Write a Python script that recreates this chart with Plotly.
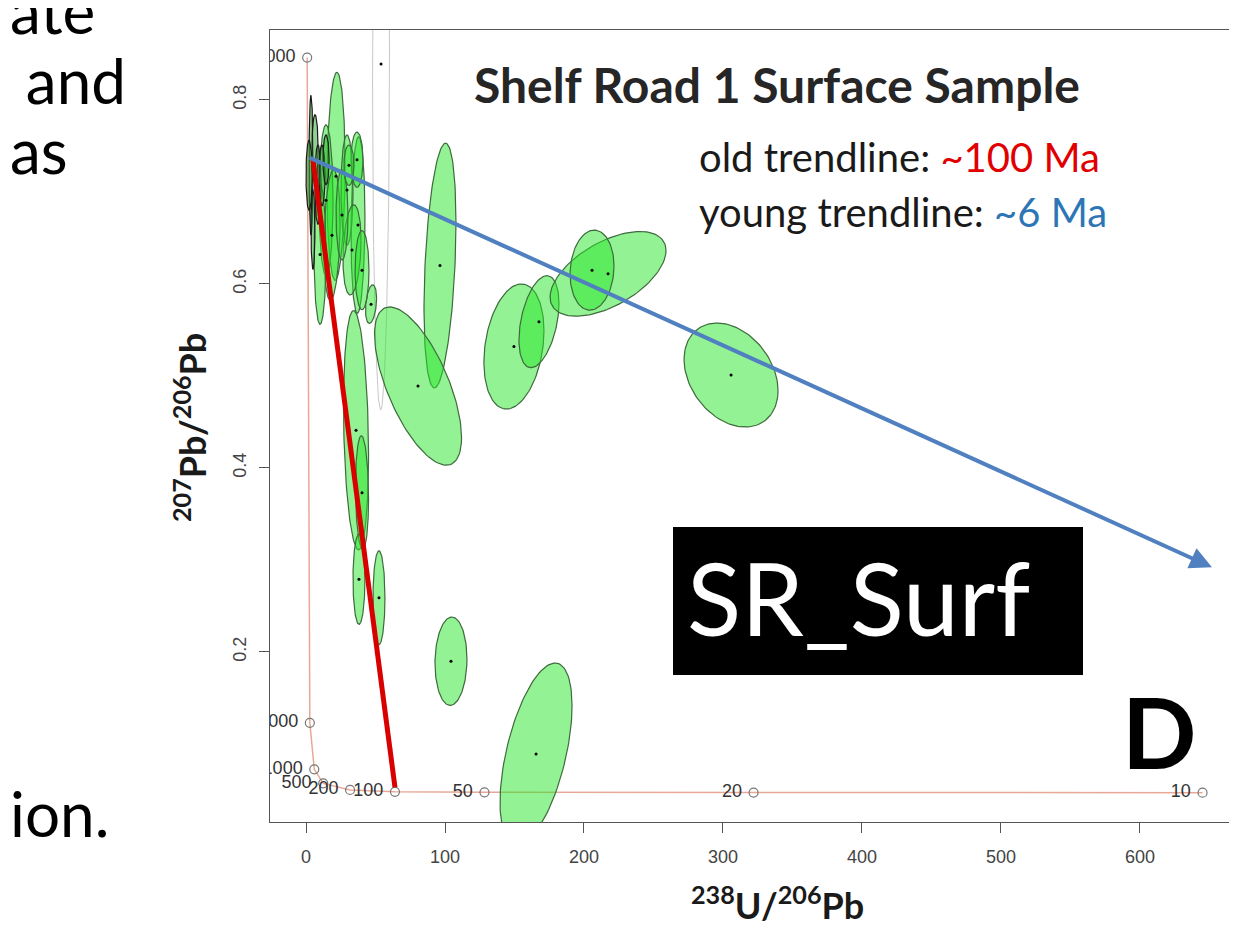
import numpy as np
import plotly.graph_objects as go

# ---------------- data ----------------
# Tera-Wasserburg concordia reference ages (Ma) and their positions
conc_age = [5000, 2000, 1000, 500, 200, 100, 50, 20, 10]
conc_x = [0.85, 2.75, 5.96, 12.4, 31.7, 64.0, 128.4, 322.0, 645.0]
conc_y = [0.846, 0.123, 0.0725, 0.0572, 0.0501, 0.0480, 0.0475, 0.0472, 0.0471]

# Error ellipses: centre x (238U/206Pb), centre y (207Pb/206Pb), half-width x, half-height y, correlation
ell_x   = [104.3, 165.5, 149.6, 167.6, 217.3, 205.8, 96.4, 80.6, 46.8, 36.0, 40.3, 38.1, 52.5, 305.8,
           21.6, 37.4, 29.5, 14.4, 18.7, 10.1, 33.1, 40.3, 25.9, 36.7, 30.9]
ell_y   = [0.190, 0.089, 0.532, 0.559, 0.611, 0.615, 0.620, 0.489, 0.578, 0.441, 0.373, 0.279, 0.259, 0.501,
           0.717, 0.664, 0.702, 0.691, 0.653, 0.632, 0.637, 0.615, 0.675, 0.735, 0.729]
ell_hx  = [11.5, 25.9, 21.6, 14.4, 41.7, 15.8, 11.5, 31.3, 4.0, 9.0, 4.7, 4.3, 4.3, 33.8,
           6.5, 5.0, 4.3, 5.0, 5.8, 4.3, 6.5, 5.0, 4.3, 4.3, 3.6]
ell_hy  = [0.048, 0.099, 0.068, 0.050, 0.046, 0.0435, 0.133, 0.086, 0.021, 0.130, 0.062, 0.049, 0.051, 0.0565,
           0.113, 0.096, 0.060, 0.082, 0.071, 0.076, 0.049, 0.043, 0.049, 0.030, 0.022]
ell_rho = [0.05, 0.53, 0.25, 0.40, 0.55, 0.10, 0.35, -0.65, 0.3, -0.2, -0.1, 0.0, 0.0, -0.3,
           0.1, 0.1, 0.0, 0.0, 0.2, 0.0, 0.2, 0.0, 0.0, 0.0, 0.0]

# very narrow (dark-outlined) ellipses near the y axis
nar_x   = [3.6, 6.5, 2.2, 8.6, 11.5, 5.0, 14.4]
nar_y   = [0.729, 0.746, 0.718, 0.708, 0.718, 0.659, 0.735]
nar_hx  = [1.4, 2.2, 2.2, 2.2, 2.2, 1.4, 2.2]
nar_hy  = [0.076, 0.038, 0.038, 0.043, 0.033, 0.043, 0.027]

# faint (unfilled) ellipse
faint_x, faint_y, faint_hx, faint_hy, faint_rho = [54.0], [0.839], [6.1], [0.376], [0.05]

# trendlines
old_trend_x = [5.0, 64.0]
old_trend_y = [0.735, 0.053]
young_trend_x = [1.4, 651.8]
young_trend_y = [0.738, 0.292]

x_ticks = [0, 100, 200, 300, 400, 500, 600]
y_ticks = [0.2, 0.4, 0.6, 0.8]

# ---------------- layout geometry (target pixel frame) ----------------
OFF = 8                      # page body margin
W, H = 1237, 940
L, R, T, B = 270, 1237, 30, 822
X_RANGE = [-25.9, 669.8]
Y_RANGE = [0.0152, 0.876]


def px(x):
    return (x - L) / (R - L)


def py(y):
    return (B - y) / (B - T)


def ellipse(cx, cy, hx, hy, rho, n=120):
    t = np.linspace(0, 2 * np.pi, n)
    xs = cx + hx * np.cos(t)
    ys = cy + hy * (rho * np.cos(t) + np.sqrt(1 - rho ** 2) * np.sin(t))
    return xs, ys


fig = go.Figure()

# faint ellipse
for cx, cy, hx, hy, r in zip(faint_x, faint_y, faint_hx, faint_hy, faint_rho):
    xs, ys = ellipse(cx, cy, hx, hy, r)
    fig.add_trace(go.Scatter(x=xs, y=ys, mode="lines", line=dict(color="#c8c8c8", width=1),
                             hoverinfo="skip", showlegend=False))

# concordia
fig.add_trace(go.Scatter(
    x=conc_x, y=conc_y, mode="lines+markers+text",
    line=dict(color="#e8a898", width=1.5),
    marker=dict(symbol="circle-open", size=9, color="#777777", line=dict(width=1.2)),
    text=[str(a) + " " for a in conc_age], textposition="middle left",
    textfont=dict(family="Liberation Sans, Arial", size=18, color="#333333"),
    cliponaxis=True, showlegend=False, hoverinfo="skip"))

# green ellipses
for cx, cy, hx, hy, r in zip(ell_x, ell_y, ell_hx, ell_hy, ell_rho):
    xs, ys = ellipse(cx, cy, hx, hy, r)
    fig.add_trace(go.Scatter(x=xs, y=ys, mode="lines", fill="toself",
                             fillcolor="rgba(40,230,40,0.5)",
                             line=dict(color="#3d6b3d", width=1.2),
                             hoverinfo="skip", showlegend=False))

for cx, cy, hx, hy in zip(nar_x, nar_y, nar_hx, nar_hy):
    xs, ys = ellipse(cx, cy, hx, hy, 0.0)
    fig.add_trace(go.Scatter(x=xs, y=ys, mode="lines", fill="toself",
                             fillcolor="rgba(40,160,40,0.5)",
                             line=dict(color="#1a1a1a", width=1.2),
                             hoverinfo="skip", showlegend=False))

# centre dots
fig.add_trace(go.Scatter(x=ell_x + faint_x, y=ell_y + faint_y, mode="markers",
                         marker=dict(color="black", size=3), hoverinfo="skip", showlegend=False))

# old trendline (red)
fig.add_trace(go.Scatter(x=old_trend_x, y=old_trend_y, mode="lines",
                         line=dict(color="#d90000", width=5), hoverinfo="skip", showlegend=False))

annotations = []
# young trendline (blue arrow)
annotations.append(dict(x=young_trend_x[1], y=young_trend_y[1], ax=young_trend_x[0], ay=young_trend_y[0],
                        xref="x", yref="y", axref="x", ayref="y", text="", showarrow=True,
                        arrowhead=2, arrowsize=1.1, arrowwidth=4, arrowcolor="#5080c0", standoff=0))

CAL = "Lato, Open Sans, sans-serif"


def note(text, x, y, size, color="#1a1a1a", xanchor="center", angle=0):
    return dict(x=px(x), y=py(y), xref="paper", yref="paper", showarrow=False,
                xanchor=xanchor, yanchor="middle", textangle=angle, text=text,
                font=dict(family=CAL, size=size, color=color))


annotations.append(note("<b>Shelf Road 1 Surface Sample</b>", 777, 84, 48, "#262626"))
annotations.append(note("old trendline: <span style='color:#e00000'>~100 Ma</span>", 697, 157, 40,
                        xanchor="left"))
annotations.append(note("young trendline: <span style='color:#2e75b6'>~6 Ma</span>", 697, 212, 40,
                        xanchor="left"))
annotations.append(note("SR_Surf", 858, 597, 100, "white"))
annotations.append(note("<b>D</b>", 1159, 731, 98, "black"))
annotations.append(note("<b><sup>238</sup>U/<sup>206</sup>Pb</b>", 777, 903, 36))
annotations.append(note("<b><sup>207</sup>Pb/<sup>206</sup>Pb</b>", 190, 428, 36, angle=-90))
for txt, xx, yy in [("ate", 8, 10), (" and", 8, 80), ("as", 8, 150), ("ion.", 8, 813)]:
    annotations.append(note(txt, xx, yy, 62, "black", xanchor="left"))

shapes = [dict(type="rect", xref="paper", yref="paper", x0=px(673), x1=px(1083), y0=py(675), y1=py(527),
               fillcolor="black", line=dict(width=0), layer="above")]

fig.update_layout(
    width=W - OFF, height=H - OFF,
    margin=dict(l=L - OFF, r=0, t=T - OFF, b=H - B),
    paper_bgcolor="white", plot_bgcolor="white",
    showlegend=False,
    annotations=annotations, shapes=shapes,
    xaxis=dict(range=X_RANGE, tickvals=x_ticks, showgrid=False, zeroline=False,
               showline=True, mirror=True, linecolor="#555555", linewidth=1.2,
               ticks="outside", ticklen=10, tickcolor="#555555", ticklabelstandoff=8,
               tickfont=dict(family="Liberation Sans, Arial", size=18, color="#444444")),
    yaxis=dict(range=Y_RANGE, tickvals=y_ticks, showgrid=False, zeroline=False,
               showline=True, mirror=True, linecolor="#555555", linewidth=1.2,
               ticks="outside", ticklen=10, tickcolor="#555555", tickangle=-90, ticklabelstandoff=6,
               tickfont=dict(family="Liberation Sans, Arial", size=18, color="#444444")),
)

fig.write_html("out.html")
